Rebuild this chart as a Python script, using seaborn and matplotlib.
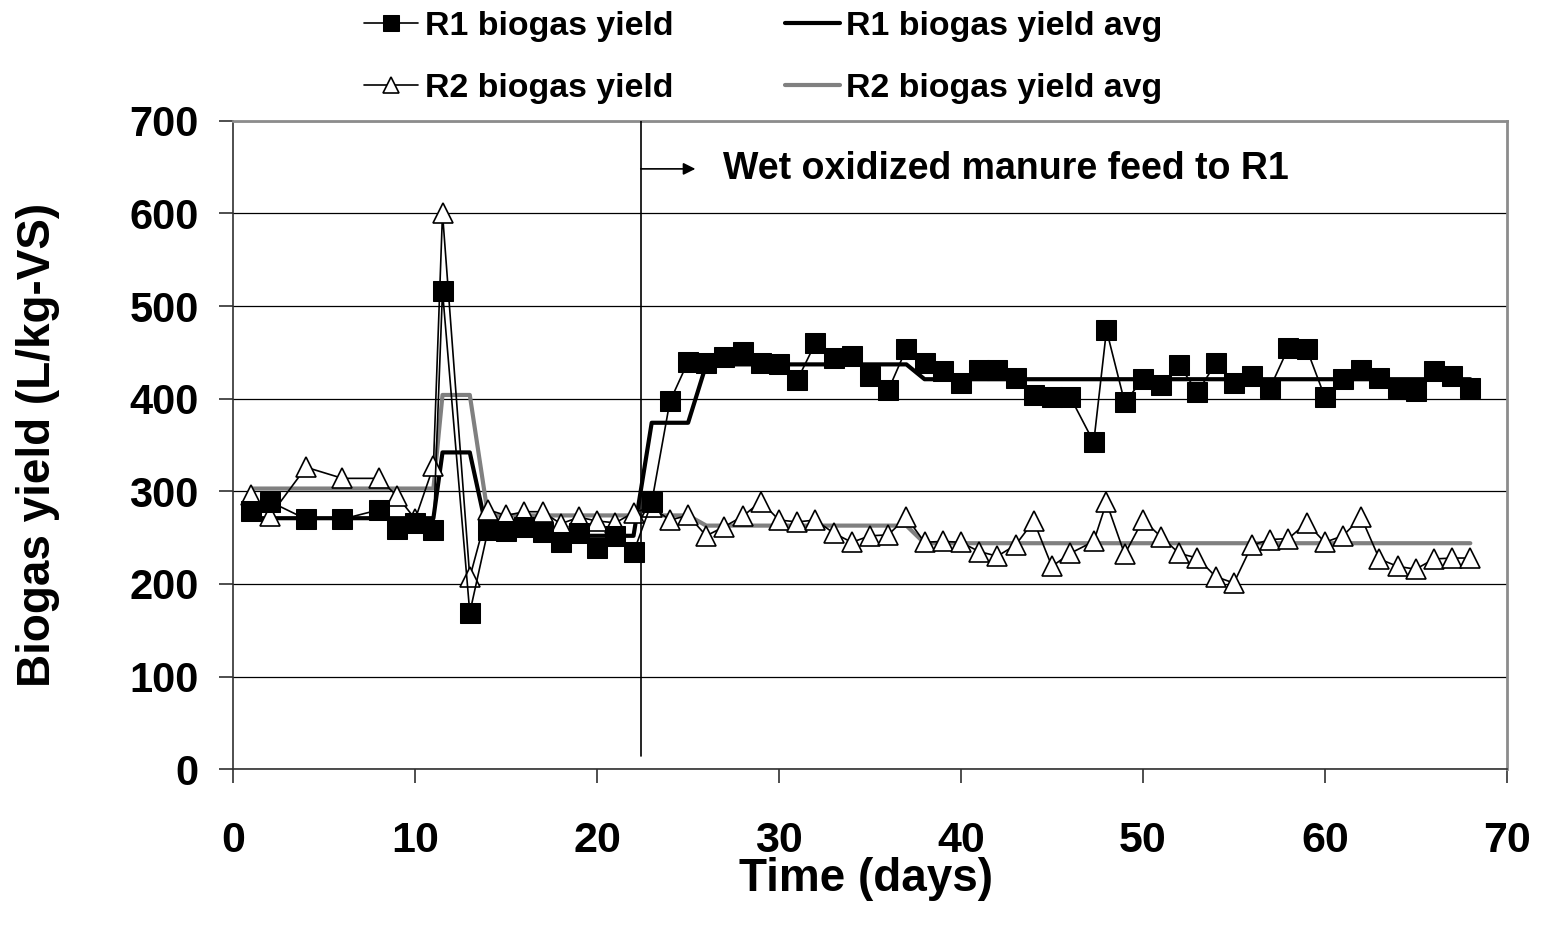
import matplotlib
matplotlib.use("Agg")
import matplotlib.pyplot as plt
import seaborn as sns
import pandas as pd

# ---------------- data ----------------
days = [1, 2, 4, 6, 8, 9, 10, 11, 11.5, 13,
        14, 15, 16, 17, 18, 19, 20, 21, 22, 23, 24, 25, 26, 27, 28, 29, 30,
        31, 32, 33, 34, 35, 36, 37, 38, 39, 40, 41, 42, 43, 44, 45, 46, 47.3,
        48, 49, 50, 51, 52, 53, 54, 55, 56, 57, 58, 59, 60, 61, 62, 63, 64,
        65, 66, 67, 68]

r1_yield = [279, 289, 270, 270, 280, 259, 266, 258, 516, 169,
            258, 257, 261, 256, 245, 255, 239, 252, 234, 288, 397, 440, 439, 445, 450, 438, 437,
            420, 460, 444, 446, 424, 409, 454, 439, 430, 417, 431, 431, 422, 404, 402, 402, 353,
            474, 396, 421, 415, 436, 407, 438, 417, 425, 412, 455, 454, 402, 421, 431, 422, 412,
            408, 430, 425, 412]

r2_yield = [296, 273, 326, 314, 314, 295, 270, 327, 600, 207,
            280, 274, 278, 278, 265, 272, 268, 266, 277, 283, 269, 274, 252, 262, 273, 289, 269,
            267, 269, 255, 245, 252, 253, 272, 245, 246, 245, 235, 230, 242, 268, 219, 233, 246,
            288, 232, 269, 251, 233, 228, 208, 201, 242, 248, 249, 266, 245, 252, 272, 227, 219,
            216, 227, 228, 228]

r1_avg = [271, 271, 271, 271, 271, 271, 271, 271, 342, 342,
          252, 252, 252, 252, 252, 252, 252, 252, 252, 374, 374, 374, 437, 437, 437, 437, 437,
          437, 437, 437, 437, 437, 437, 437, 421, 421, 421, 421, 421, 421, 421, 421, 421, 421,
          421, 421, 421, 421, 421, 421, 421, 421, 421, 421, 421, 421, 421, 421, 421, 421, 421,
          421, 421, 421, 421]

r2_avg = [303, 303, 303, 303, 303, 303, 303, 303, 404, 404,
          274, 274, 274, 274, 274, 274, 274, 274, 274, 274, 274, 274, 263, 263, 263, 263, 263,
          263, 263, 263, 263, 263, 263, 263, 244, 244, 244, 244, 244, 244, 244, 244, 244, 244,
          244, 244, 244, 244, 244, 244, 244, 244, 244, 244, 244, 244, 244, 244, 244, 244, 244,
          244, 244, 244, 244]

legend_labels = ["R1 biogas yield", "R2 biogas yield", "R1 biogas yield avg", "R2 biogas yield avg"]
feed_day = 22.4
annotation = "Wet oxidized manure feed to R1"
x_ticks = [0, 10, 20, 30, 40, 50, 60, 70]
y_ticks = [0, 100, 200, 300, 400, 500, 600, 700]

df = pd.DataFrame({"day": days, "r1": r1_yield, "r2": r2_yield,
                   "r1avg": r1_avg, "r2avg": r2_avg})

# ---------------- style ----------------
sns.set_style("white")
plt.rcParams["font.family"] = ["Liberation Sans", "DejaVu Sans"]
plt.rcParams["font.weight"] = "bold"
plt.rcParams["text.color"] = "black"
plt.rcParams["xtick.color"] = "black"
plt.rcParams["ytick.color"] = "black"
plt.rcParams["xtick.labelcolor"] = "black"
plt.rcParams["ytick.labelcolor"] = "black"

W, H = 1545, 931
fig = plt.figure(figsize=(W / 100, H / 100), dpi=100)
L, R, T, B = 233.3, 1506.7, 120.7, 769.3
ax = fig.add_axes([L / W, 1 - B / H, (R - L) / W, (B - T) / H])

# average lines first (underneath)
sns.lineplot(data=df, x="day", y="r2avg", ax=ax, estimator=None, sort=False,
             color="#808080", linewidth=3.0, legend=False, zorder=3)
sns.lineplot(data=df, x="day", y="r1avg", ax=ax, estimator=None, sort=False,
             color="black", linewidth=3.0, legend=False, zorder=3)
sns.lineplot(data=df, x="day", y="r2", ax=ax, estimator=None, sort=False,
             color="black", linewidth=1.2, marker="^", markersize=14.5,
             markerfacecolor="white", markeredgecolor="black", markeredgewidth=1.2,
             legend=False, zorder=4)
sns.lineplot(data=df, x="day", y="r1", ax=ax, estimator=None, sort=False,
             color="black", linewidth=1.2, marker="s", markersize=14,
             markerfacecolor="black", markeredgecolor="black",
             legend=False, zorder=5)

lines = ax.get_lines()
l_r2avg, l_r1avg, l_r2, l_r1 = lines[0], lines[1], lines[2], lines[3]

# vertical feed line and arrow
ax.plot([feed_day, feed_day], [14, 700], color="black", linewidth=1.2, zorder=6)
ax.annotate("", xy=(25.4, 648), xytext=(feed_day, 648),
            arrowprops=dict(arrowstyle="-|>", color="black", lw=1.2,
                            mutation_scale=18, shrinkA=0, shrinkB=0), zorder=6)
ax.text(26.9, 648, annotation, fontsize=27, fontweight="bold", color="black",
        ha="left", va="center", zorder=6)

# axes
ax.set_xlim(0, 70)
ax.set_ylim(0, 700)
ax.set_xticks(x_ticks)
ax.set_yticks(y_ticks)
ax.set_xlabel("")
ax.set_ylabel("")
ax.yaxis.grid(True, color="black", linewidth=0.9)
ax.xaxis.grid(False)
ax.set_axisbelow(True)
for s in ["left", "bottom"]:
    ax.spines[s].set_color("#303030")
    ax.spines[s].set_linewidth(1.2)
for s in ["top", "right"]:
    ax.spines[s].set_color("#8c8c8c")
    ax.spines[s].set_linewidth(2.0)
ax.tick_params(axis="both", direction="out", length=10, width=1.2, color="#303030",
               left=True, bottom=True)
ax.tick_params(axis="x", labelsize=31, pad=27, labelcolor="black")
ax.tick_params(axis="y", labelsize=30, pad=15, labelcolor="black")
for lab in ax.get_xticklabels() + ax.get_yticklabels():
    lab.set_fontweight("bold")

fig.text(866 / W, 1 - 879 / H, "Time (days)", fontsize=33, fontweight="bold",
         color="black", ha="center", va="center")
fig.text(38 / W, 1 - 445 / H, "Biogas yield (L/kg-VS)", fontsize=33, fontweight="bold",
         color="black", ha="center", va="center", rotation=90)

# legend
handles = [l_r1, l_r2, l_r1avg, l_r2avg]
leg = fig.legend(handles, legend_labels, loc="upper left",
                 bbox_to_anchor=(364 / W, 1 - 11 / H), ncol=2, frameon=False,
                 prop={"weight": "bold", "size": 24.4},
                 handlelength=1.6, handletextpad=0.2, columnspacing=3.3,
                 labelspacing=0.92, borderpad=0, borderaxespad=0, markerscale=0.8)
for t in leg.get_texts():
    t.set_color("black")

fig.savefig("out.png", dpi=100)
